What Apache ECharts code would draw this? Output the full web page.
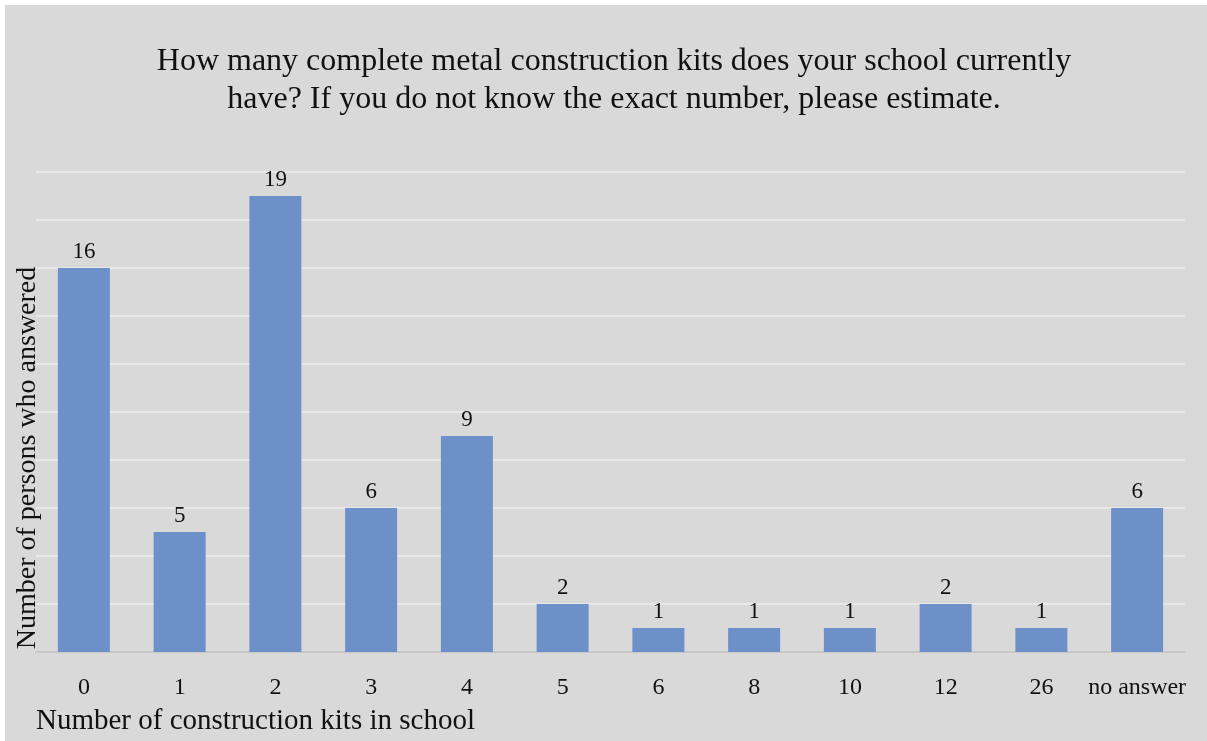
<!DOCTYPE html>
<html>
<head>
<meta charset="utf-8">
<script src="https://cdn.jsdelivr.net/npm/echarts@6/dist/echarts.min.js"></script>
<style>
  html, body { margin: 0; padding: 0; background: #ffffff; }
  #chart { position: absolute; left: 5px; top: 5px; width: 1202px; height: 736px; background: #d9d9d9; }
</style>
</head>
<body>
<div id="chart"></div>
<script>
// Survey answers: number of metal construction kits per school
const categories = ['0', '1', '2', '3', '4', '5', '6', '8', '10', '12', '26', 'no answer'];
const respondents = [16, 5, 19, 6, 9, 2, 1, 1, 1, 2, 1, 6];
const titleLines = [
  'How many complete metal construction kits does your school currently',
  'have? If you do not know the exact number, please estimate.'
];
const xAxisTitle = 'Number of construction kits in school';
const yAxisTitle = 'Number of persons who answered';

const serif = '"Liberation Serif", "Times New Roman", serif';

const chart = echarts.init(document.getElementById('chart'), null, { renderer: 'canvas' });

chart.setOption({
  backgroundColor: '#d9d9d9',
  animation: false,
  title: {
    text: titleLines.join('\n'),
    left: 604,
    top: 33,
    textAlign: 'center',
    textStyle: {
      fontFamily: serif,
      fontWeight: 'normal',
      fontSize: 32,
      lineHeight: 38,
      color: '#111111'
    }
  },
  grid: { left: 31, right: 22, top: 167, bottom: 89 },
  xAxis: {
    type: 'category',
    data: categories,
    axisLine: { show: true, lineStyle: { color: '#bcbcbc', width: 1.5 } },
    axisTick: { show: false },
    axisLabel: {
      fontFamily: serif,
      fontSize: 24,
      color: '#111111',
      margin: 24,
      interval: 0
    }
  },
  yAxis: {
    type: 'value',
    min: 0,
    max: 20,
    interval: 2,
    axisLine: { show: false },
    axisTick: { show: false },
    axisLabel: { show: false },
    splitLine: { show: true, lineStyle: { color: '#e8e8e8', width: 2 } }
  },
  series: [{
    type: 'bar',
    data: respondents,
    barWidth: 52,
    itemStyle: { color: '#6e90c9' },
    label: {
      show: true,
      position: 'top',
      distance: 5,
      fontFamily: serif,
      fontSize: 23,
      color: '#111111'
    }
  }],
  graphic: [
    {
      type: 'text',
      left: 31,
      top: 702,
      style: {
        text: xAxisTitle,
        fontFamily: serif,
        fontSize: 29,
        fill: '#111111'
      }
    },
    {
      type: 'text',
      x: 23,
      y: 453,
      rotation: Math.PI / 2,
      style: {
        text: yAxisTitle,
        fontFamily: serif,
        fontSize: 28,
        fill: '#111111',
        align: 'center',
        verticalAlign: 'middle'
      }
    }
  ]
});
</script>
</body>
</html>
